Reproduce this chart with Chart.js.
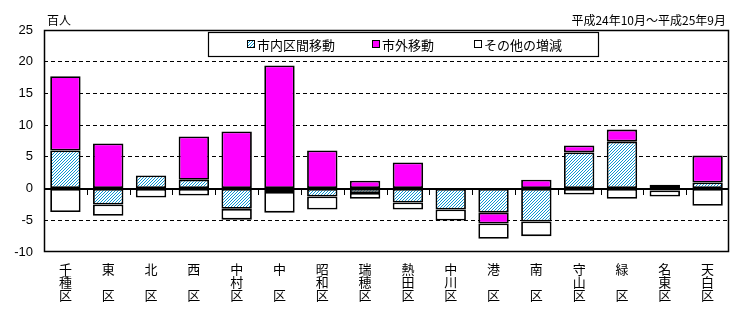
<!DOCTYPE html>
<html>
<head>
<meta charset="utf-8">
<script src="https://cdn.jsdelivr.net/npm/chart.js@4/dist/chart.umd.min.js"></script>
<style>
  html, body { margin: 0; padding: 0; background: #fff; }
  #wrap { width: 755px; height: 324px; }
</style>
</head>
<body>
<div id="wrap"><canvas id="graf" width="755" height="324"></canvas></div>
<script>
// 区別 人口増減の内訳（百人）
const wards = ['千種', '東', '北', '西', '中村', '中', '昭和', '瑞穂', '熱田', '中川', '港', '南', '守山', '緑', '名東', '天白'];
const shinai = [6.0, -2.5, 2.05, 1.4, -3.2, -0.55, -1.25, -0.7, -2.2, -3.3, -3.8, -5.2, 5.7, 7.4, -0.3, 0.95];
const shigai = [11.7, 7.1, 0, 6.8, 9.0, 19.4, 6.0, 1.25, 4.1, 0, -1.7, 1.4, 1.1, 1.9, 0.6, 4.25];
const sonota = [-3.7, -1.8, -1.4, -1.1, -1.7, -3.25, -2.05, -0.9, -1.1, -1.75, -2.4, -2.3, -0.95, -1.6, -0.95, -2.7];
const seriesNames = ['市内区間移動', '市外移動', 'その他の増減'];
const yTicks = [-10, -5, 0, 5, 10, 15, 20, 25];
const unitLabel = '百人';
const periodLabel = '平成24年10月～平成25年9月';

const JP = '"Noto Sans CJK JP", sans-serif';

// 縦書き風ラベル: 1文字の区名は2行目を空ける
function wardLabel(name) {
  let rows = name.split('');
  if (rows.length < 2) rows.push('');
  rows.push('区');
  return rows;
}

// 斜線ハッチ
function makeHatch() {
  let c = document.createElement('canvas');
  c.width = 3; c.height = 3;
  let g = c.getContext('2d');
  g.fillStyle = '#ffffff';
  g.fillRect(0, 0, 3, 3);
  g.fillStyle = '#0a96d2';
  // 右上がりの1px斜線
  g.fillRect(2, 0, 1, 1);
  g.fillRect(1, 1, 1, 1);
  g.fillRect(0, 2, 1, 1);
  return document.getElementById('graf').getContext('2d').createPattern(c, 'repeat');
}
const hatch = makeHatch();
const fills = [hatch, '#ff00ff', '#ffffff'];

const framePlugin = {
  id: 'frame',
  afterDraw(chart) {
    const ctx = chart.ctx;
    const a = chart.chartArea;
    const y = chart.scales.y;
    ctx.save();
    ctx.strokeStyle = '#000';
    ctx.lineWidth = 1.5;
    ctx.strokeRect(a.left + 0.5, a.top + 0.5, a.right - a.left - 1, a.bottom - a.top - 1);
    // 0 の線と区切り目盛
    let y0 = Math.round(y.getPixelForValue(0));
    ctx.lineWidth = 2;
    ctx.beginPath();
    ctx.moveTo(a.left, y0);
    ctx.lineTo(a.right, y0);
    ctx.stroke();
    ctx.lineWidth = 1;
    let w = (a.right - a.left) / wards.length;
    ctx.beginPath();
    for (let i = 1; i < wards.length; i++) {
      let px = Math.round(a.left + w * i) + 0.5;
      ctx.moveTo(px, y0);
      ctx.lineTo(px, y0 + 6);
    }
    ctx.stroke();

    // 凡例
    let lx = 208, ly = 32, lw = 390, lh = 24;
    ctx.fillStyle = '#fff';
    ctx.fillRect(lx, ly, lw, lh);
    ctx.lineWidth = 1.2;
    ctx.strokeRect(lx + 0.5, ly + 0.5, lw, lh);
    ctx.lineWidth = 1;
    const pos = [247, 372, 474];
    ctx.font = '13px ' + JP;
    ctx.textBaseline = 'middle';
    seriesNames.forEach((name, i) => {
      let bx = pos[i], by = ly + lh / 2 - 4;
      ctx.fillStyle = fills[i];
      ctx.fillRect(bx, by, 8, 8);
      ctx.strokeRect(bx + 0.5, by + 0.5, 7, 7);
      ctx.fillStyle = '#000';
      ctx.fillText(name, bx + 10, ly + lh / 2 + 1);
    });

    // 単位と期間
    ctx.font = '12px ' + JP;
    ctx.textAlign = 'left';
    ctx.fillText(unitLabel, 47, 20);
    ctx.textAlign = 'right';
    ctx.fillText(periodLabel, 726, 20);
    ctx.restore();
  }
};

const ctx = document.getElementById('graf').getContext('2d');
new Chart(ctx, {
  type: 'bar',
  data: {
    labels: wards.map(wardLabel),
    datasets: [shinai, shigai, sonota].map((vals, i) => ({
      label: seriesNames[i],
      data: vals,
      backgroundColor: fills[i],
      borderColor: '#000',
      borderWidth: 1.8,
      borderSkipped: false,
      categoryPercentage: 1,
      barPercentage: 0.71
    }))
  },
  options: {
    responsive: false,
    animation: false,
    layout: { padding: { top: 30, right: 26, left: 0, bottom: 0 } },
    plugins: { legend: { display: false }, tooltip: { enabled: false } },
    scales: {
      x: {
        stacked: true,
        grid: { display: false },
        border: { display: false },
        ticks: {
          color: '#000',
          padding: 3,
          maxRotation: 0,
          autoSkip: false,
          font: { family: JP, size: 13, lineHeight: 0.98 }
        },
        afterFit(scale) { scale.height = 72; }
      },
      y: {
        stacked: true,
        min: -10,
        max: 25,
        afterBuildTicks(scale) { scale.ticks = yTicks.map(v => ({ value: v })); },
        grid: {
          drawTicks: false,
          lineWidth: 1,
          color: (c) => ([-10, 0, 25].includes(c.tick.value) ? 'rgba(0,0,0,0)' : '#000')
        },
        border: { display: false, dash: [4, 3] },
        ticks: {
          color: '#000',
          padding: 11,
          font: { family: '"Liberation Sans", Arial, sans-serif', size: 13 }
        },
        afterFit(scale) { scale.width = 44; }
      }
    }
  },
  plugins: [framePlugin]
});
</script>
</body>
</html>
